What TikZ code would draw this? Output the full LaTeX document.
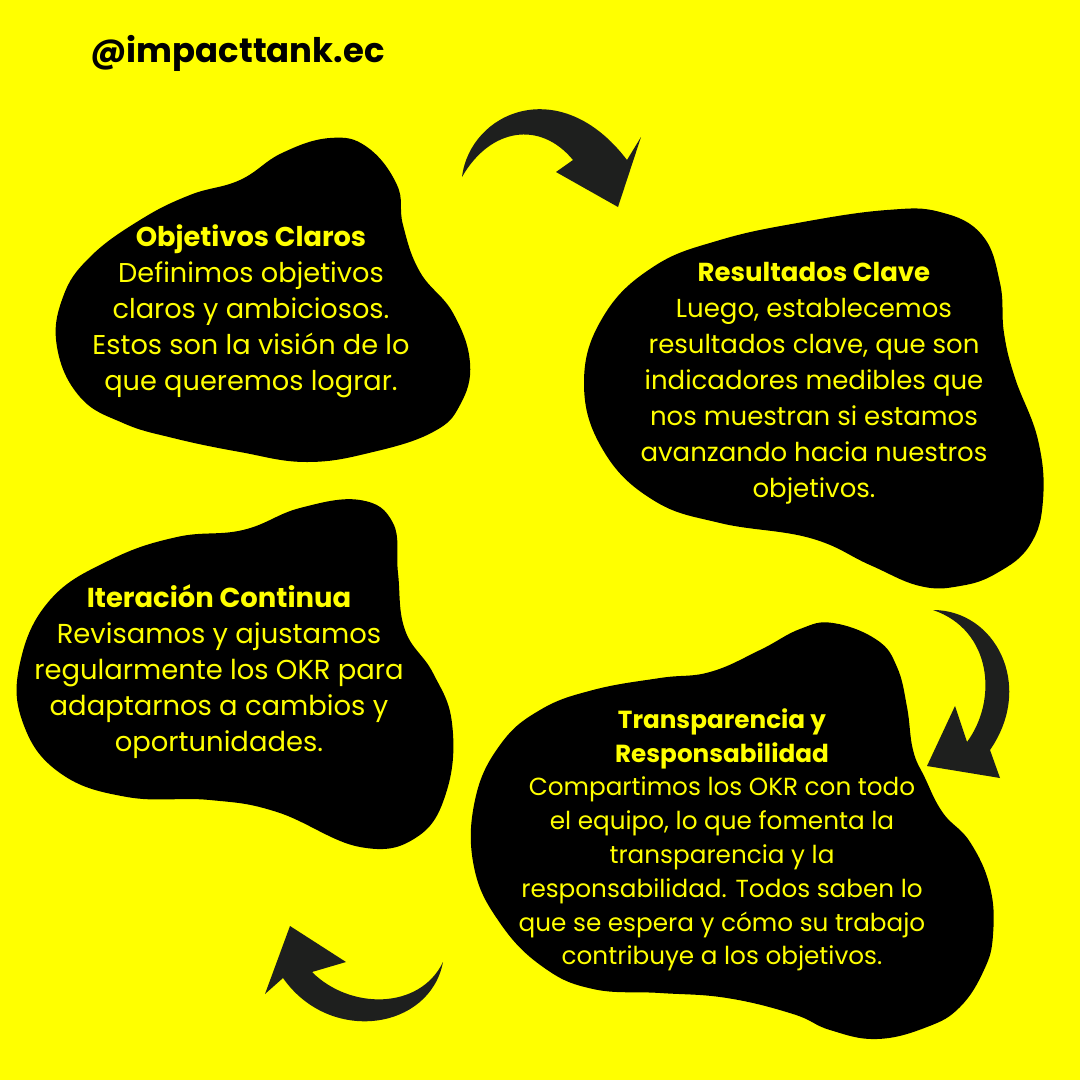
\documentclass[tikz,border=0pt]{standalone}
\usepackage{fontspec}
\setmainfont{Poppins}
\definecolor{bg}{HTML}{FFFF00}
\definecolor{ink}{HTML}{1E1F1E}
\begin{document}
\begin{tikzpicture}[x=1pt,y=-1pt,
  blob/.style={fill=black},
  arr/.style={fill=ink},
  txt/.style={text=bg, align=center, inner sep=0pt}]
\fill[bg] (0,0) rectangle (1080,1080);
\useasboundingbox (0,0) rectangle (1080,1080);

% blob 1
\fill[blob] plot[smooth cycle, tension=0.7] coordinates {
 (330,138) (367,147) (397,185) (403,225) (420,272) (453,313) (470,363) (460,405)
 (433,432) (373,452) (307,462) (240,452) (173,438) (123,423) (80,397) (57,347)
 (63,297) (90,257) (140,220) (190,195) (240,180) (282,153)};
% blob 2
\fill[blob] plot[smooth cycle, tension=0.7] coordinates {
 (887,210) (940,212) (982,235) (1000,283) (1004,333) (1015,378) (1038,440) (1043,500)
 (1030,545) (997,573) (960,586) (920,586) (870,565) (810,538) (720,523) (653,500) (603,450)
 (584,383) (603,317) (653,267) (720,240) (803,222)};
% blob 3
\fill[blob] plot[smooth cycle, tension=0.7] coordinates {
 (360,500) (393,523) (398,573) (405,630) (433,673) (452,723) (447,790) (417,837)
 (360,847) (277,812) (210,800) (127,797) (60,773) (23,723) (20,663) (50,600)
 (110,560) (177,537) (243,530) (300,508)};
% blob 4
\fill[blob] plot[smooth cycle, tension=0.7] coordinates {
 (833,623) (877,640) (897,667) (907,707) (913,750) (925,778) (943,813) (970,842)
 (990,887) (993,935) (984,970) (960,1007) (927,1027) (877,1039) (830,1030)
 (793,1014) (727,998) (660,993) (593,989) (543,967) (500,923) (474,867) (475,800)
 (500,745) (540,710) (593,690) (660,678) (710,672) (760,650) (800,629)};

% arrows
\fill[arr] (462,177) .. controls (470,112) and (560,72) .. (627,160)
  -- (641,137) -- (618,207) -- (556,172) -- (573,160)
  .. controls (540,120) and (490,128) .. (462,177) -- cycle;
\fill[arr] (933,610) .. controls (995,610) and (1035,685) .. (990,750)
  -- (1000,778) -- (927,766) -- (955,706) -- (967,742)
  .. controls (998,700) and (992,630) .. (933,610) -- cycle;
\fill[arr] (443,962) .. controls (430,1030) and (330,1045) .. (283,978)
  -- (265,994) -- (290,926) -- (346,962) -- (312,972)
  .. controls (350,1010) and (420,1010) .. (443,962) -- cycle;

% texts
\node[anchor=base west, inner sep=0pt, font=\fontsize{33.9}{36}\selectfont\bfseries] (hdr) at (90,62) {@impacttank.ec};
\node[txt, font=\fontsize{27.2}{36}\selectfont] (t1) at (251,311) {{\bfseries Objetivos Claros}\\Definimos objetivos\\claros y ambiciosos.\\Estos son la visión de lo\\que queremos lograr.};
\node[txt, font=\fontsize{26}{36}\selectfont] (t2) at (814,383) {{\bfseries Resultados Clave}\\Luego, establecemos\\resultados clave, que son\\indicadores medibles que\\nos muestran si estamos\\avanzando hacia nuestros\\objetivos.};
\node[txt, font=\fontsize{27.4}{36}\selectfont] (t3) at (219,672) {{\bfseries Iteración Continua}\\Revisamos y ajustamos\\regularmente los OKR para\\adaptarnos a cambios y\\oportunidades.};
\node[txt, font=\fontsize{24.7}{33.8}\selectfont] (t4) at (722,840) {{\bfseries Transparencia y}\\{\bfseries Responsabilidad}\\Compartimos los OKR con todo\\el equipo, lo que fomenta la\\transparencia y la\\responsabilidad. Todos saben lo\\que se espera y cómo su trabajo\\contribuye a los objetivos.};
\end{tikzpicture}
\end{document}
